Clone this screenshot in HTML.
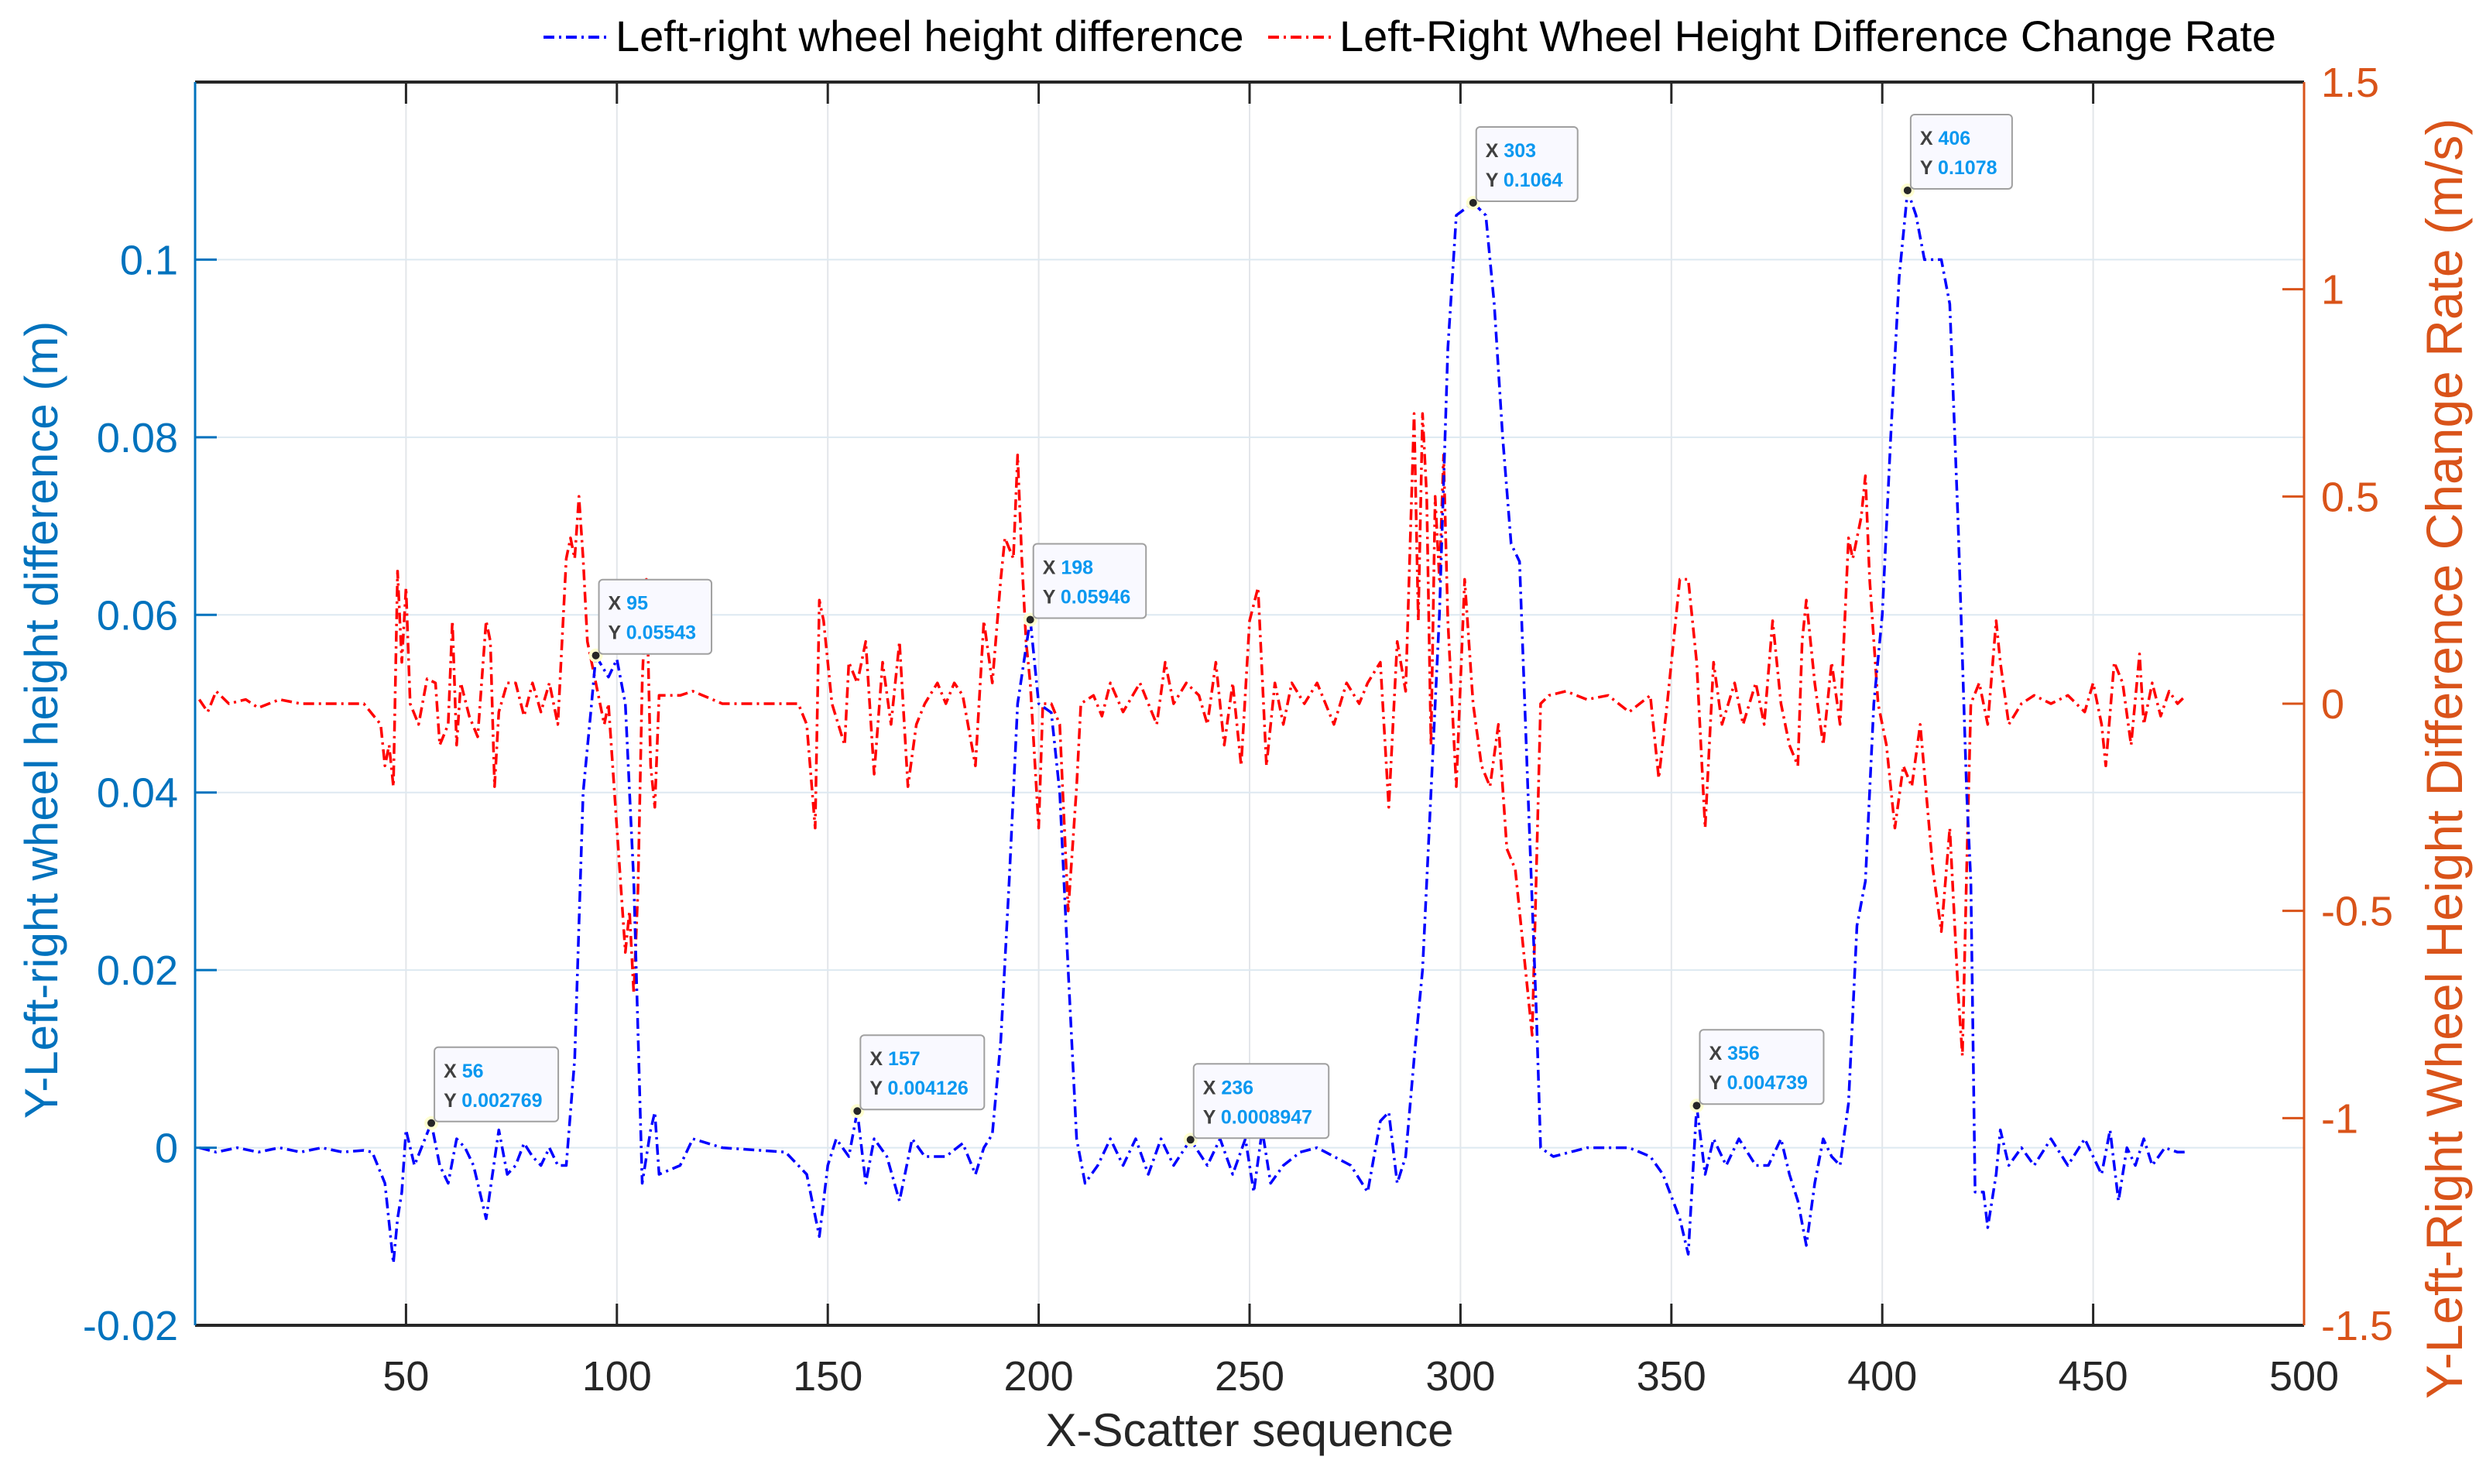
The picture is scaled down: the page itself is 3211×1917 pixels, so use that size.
<!DOCTYPE html>
<html><head><meta charset="utf-8"><style>
html,body{margin:0;padding:0;background:#fff;}
svg{display:block;font-family:"Liberation Sans",Arial,sans-serif;}
</style></head><body>
<svg id="chart" width="3211" height="1917" viewBox="0 0 3211 1917" xmlns="http://www.w3.org/2000/svg">
<rect x="0" y="0" width="3211" height="1917" fill="#fff"/>
<g id="grid"></g>
<g id="series"></g>
<g id="axes"></g>
<g id="tips"></g>
<g id="legend">
  <line x1="702" y1="48" x2="788" y2="48" stroke="#0000FF" stroke-width="4" stroke-dasharray="14,6,3,6"/>
  <text x="795" y="66" font-size="56" fill="#000">Left-right wheel height difference</text>
  <line x1="1638" y1="48" x2="1722" y2="48" stroke="#FF0000" stroke-width="4" stroke-dasharray="14,6,3,6"/>
  <text x="1730" y="66" font-size="56" fill="#000">Left-Right Wheel Height Difference Change Rate</text>
</g>
<text x="1614" y="1868" font-size="60" text-anchor="middle" fill="#262626">X-Scatter sequence</text>
<text transform="translate(74,930) rotate(-90)" font-size="60" text-anchor="middle" fill="#0072BD">Y-Left-right wheel height difference (m)</text>
<text transform="translate(3180,980) rotate(-90)" font-size="66" text-anchor="middle" fill="#D95319">Y-Left-Right Wheel Height Difference Change Rate (m/s)</text>
</svg>
<script>
const xTicks=[50,100,150,200,250,300,350,400,450,500];
const leftTicks=[-0.02,0,0.02,0.04,0.06,0.08,0.1];
const leftTickLabels=["-0.02","0","0.02","0.04","0.06","0.08","0.1"];
const rightTicks=[-1.5,-1,-0.5,0,0.5,1,1.5];
const rightTickLabels=["-1.5","-1","-0.5","0","0.5","1","1.5"];
const heightX=[1,5,10,15,20,25,30,35,40,42,45,47,48,49,50,52,56,58,60,62,64,66,69,72,74,76,78,80,82,84,86,88,90,92,94,95,98,100,102,104,106,108,109,110,115,118,125,140,145,148,150,152,155,157,159,161,164,167,170,173,178,182,185,187,189,191,193,195,198,200,203,205,207,209,211,214,217,220,223,226,229,232,236,240,243,246,249,251,253,255,258,262,266,270,274,278,281,283,285,287,289,291,293,295,297,299,303,306,308,310,312,314,316,318,319,322,330,340,345,348,352,354,356,358,360,363,366,370,373,376,378,380,382,384,386,388,390,392,394,396,398,400,402,404,406,408,410,414,416,418,420,421,422,424,425,427,428,430,433,436,440,444,448,452,454,456,458,460,462,464,467,470,472];
const heightY=[0,-0.0005,0,-0.0005,0,-0.0005,0,-0.0005,-0.0003,-0.0005,-0.004,-0.013,-0.008,-0.005,0.002,-0.002,0.0028,-0.002,-0.004,0.001,0,-0.002,-0.008,0.002,-0.003,-0.002,0.0005,-0.001,-0.002,0,-0.002,-0.002,0.01,0.04,0.05,0.0554,0.053,0.055,0.05,0.03,-0.004,0.002,0.004,-0.003,-0.002,0.001,0,-0.0005,-0.003,-0.010,-0.002,0.001,-0.001,0.0041,-0.004,0.001,-0.001,-0.006,0.001,-0.001,-0.001,0.0005,-0.003,0,0.0015,0.012,0.03,0.05,0.0595,0.05,0.049,0.04,0.02,0.001,-0.004,-0.002,0.001,-0.002,0.001,-0.003,0.001,-0.002,0.0009,-0.002,0.001,-0.003,0.001,-0.005,0.002,-0.004,-0.002,-0.0005,0,-0.001,-0.002,-0.005,0.003,0.004,-0.004,-0.001,0.01,0.02,0.04,0.06,0.09,0.105,0.1064,0.105,0.095,0.08,0.068,0.066,0.04,0.015,0,-0.001,0,0,-0.001,-0.003,-0.008,-0.012,0.0047,-0.003,0.001,-0.002,0.001,-0.002,-0.002,0.001,-0.003,-0.006,-0.011,-0.004,0.001,-0.001,-0.002,0.005,0.025,0.03,0.05,0.06,0.08,0.098,0.1078,0.105,0.1,0.1,0.095,0.07,0.04,0.03,-0.005,-0.005,-0.009,-0.003,0.002,-0.002,0,-0.002,0.001,-0.002,0.001,-0.003,0.002,-0.006,0,-0.002,0.001,-0.002,0,-0.0005,-0.0005];
const rateX=[1,3,5,8,12,15,20,25,30,40,44,45,46,47,48,49,50,51,53,55,57,58,60,61,62,63,65,67,69,70,71,72,74,76,78,80,82,84,86,88,89,90,91,92,93,95,97,98,100,102,103,104,105,106,107,108,109,110,115,118,125,135,143,145,147,148,149,151,154,155,157,159,161,163,165,167,169,171,173,176,178,180,182,185,187,189,191,192,194,195,196,197,198,200,201,203,205,207,208,209,210,213,215,217,220,224,228,230,232,235,238,240,242,244,246,248,250,252,254,256,258,260,263,266,270,273,276,278,281,283,285,287,289,290,291,292,293,294,295,296,297,299,301,303,305,307,309,311,313,315,317,318,319,321,325,330,335,340,345,347,349,352,354,356,358,360,362,365,367,370,372,374,376,378,380,381,382,384,386,388,390,392,393,395,396,397,399,401,403,405,407,409,412,414,416,418,419,420,421,423,425,427,428,430,433,436,440,444,448,450,452,453,455,457,459,461,462,464,466,468,470,472];
const rateY=[0.01,-0.02,0.03,0,0.01,-0.01,0.01,0,0,0,-0.05,-0.15,-0.1,-0.2,0.32,0.1,0.28,0,-0.05,0.06,0.05,-0.1,-0.05,0.2,-0.1,0.05,-0.03,-0.08,0.2,0.15,-0.2,-0.02,0.05,0.05,-0.03,0.05,-0.02,0.05,-0.05,0.35,0.4,0.35,0.5,0.35,0.15,0.05,-0.05,0,-0.3,-0.6,-0.5,-0.7,-0.45,0.05,0.3,-0.15,-0.25,0.02,0.02,0.03,0,0,0,-0.05,-0.3,0.25,0.2,0,-0.1,0.1,0.05,0.15,-0.17,0.1,-0.05,0.15,-0.2,-0.05,0,0.05,0,0.05,0.02,-0.15,0.2,0.05,0.3,0.4,0.35,0.6,0.35,0.15,0.05,-0.3,0,0,-0.05,-0.5,-0.35,-0.2,0,0.02,-0.03,0.05,-0.02,0.05,-0.05,0.1,0,0.05,0.02,-0.05,0.1,-0.1,0.05,-0.15,0.2,0.28,-0.15,0.05,-0.05,0.05,0,0.05,-0.05,0.05,0,0.05,0.1,-0.25,0.15,0.03,0.7,0.2,0.7,0.5,-0.1,0.5,0.3,0.6,0.2,-0.2,0.3,0,-0.15,-0.2,-0.05,-0.35,-0.4,-0.6,-0.8,-0.4,0,0.02,0.03,0.01,0.02,-0.02,0.02,-0.18,0,0.3,0.3,0.1,-0.3,0.1,-0.05,0.05,-0.05,0.05,-0.05,0.2,0,-0.1,-0.15,0.15,0.25,0.05,-0.1,0.1,-0.05,0.4,0.35,0.45,0.55,0.3,0,-0.1,-0.3,-0.15,-0.2,-0.05,-0.4,-0.55,-0.3,-0.7,-0.85,-0.4,0,0.05,-0.05,0.2,0.1,-0.05,0,0.02,0,0.02,-0.02,0.05,-0.05,-0.15,0.1,0.05,-0.1,0.12,-0.05,0.05,-0.03,0.03,0,0.02];
const tipX=[56,95,157,198,236,303,356,406];
const tipY=[0.002769,0.05543,0.004126,0.05946,0.0008947,0.1064,0.004739,0.1078];
const tipLabels=["0.002769","0.05543","0.004126","0.05946","0.0008947","0.1064","0.004739","0.1078"];

const NS="http://www.w3.org/2000/svg";
const L=252,R=2976,T=106,B=1712;
const xMin=0,xMax=500,lMin=-0.02,lMax=0.12,rMin=-1.5,rMax=1.5;
function sx(v){return L+(v-xMin)/(xMax-xMin)*(R-L);}
function sl(v){return B-(v-lMin)/(lMax-lMin)*(B-T);}
function sr(v){return B-(v-rMin)/(rMax-rMin)*(B-T);}
function mk(tag,attrs,parent){const e=document.createElementNS(NS,tag);for(const k in attrs)e.setAttribute(k,attrs[k]);parent.appendChild(e);return e;}
const grid=document.getElementById('grid'),axes=document.getElementById('axes'),series=document.getElementById('series'),tips=document.getElementById('tips');

xTicks.forEach((t,i)=>{
  const x=sx(t);
  if(t<xMax){const g=mk('line',{x1:x,y1:T,x2:x,y2:B,stroke:'#e3e6ea','stroke-width':2},grid);
  
  }
  const tk1=mk('line',{x1:x,y1:B,x2:x,y2:B-28,stroke:'#262626','stroke-width':3},axes);
  
  
  const tk2=mk('line',{x1:x,y1:T,x2:x,y2:T+28,stroke:'#262626','stroke-width':3},axes);
  
  
  const lb=mk('text',{x:x,y:B+84,'font-size':54,'text-anchor':'middle',fill:'#262626'},axes);
  lb.textContent=String(t);
  
  
});
leftTicks.forEach((t,i)=>{
  const y=sl(t);
  const g=mk('line',{x1:L,y1:y,x2:R,y2:y,stroke:'#dde9f1','stroke-width':2},grid);
  
  
  const tk=mk('line',{x1:L,y1:y,x2:L+28,y2:y,stroke:'#0072BD','stroke-width':3},axes);
  
  
  const lb=mk('text',{x:L-22,y:y+19,'font-size':54,'text-anchor':'end',fill:'#0072BD'},axes);
  lb.textContent=leftTickLabels[i];
  
  
});
rightTicks.forEach((t,i)=>{
  const y=sr(t);
  const tk=mk('line',{x1:R,y1:y,x2:R-28,y2:y,stroke:'#D95319','stroke-width':3},axes);
  
  
  const lb=mk('text',{x:R+22,y:y+19,'font-size':54,'text-anchor':'start',fill:'#D95319'},axes);
  lb.textContent=rightTickLabels[i];
  
  
});
const topAx=mk('line',{x1:L,y1:T,x2:R,y2:T,stroke:'#262626','stroke-width':4},axes);


const botAx=mk('line',{x1:L,y1:B,x2:R,y2:B,stroke:'#262626','stroke-width':4},axes);


const lAx=mk('line',{x1:L,y1:T,x2:L,y2:B,stroke:'#0072BD','stroke-width':3},axes);


const rAx=mk('line',{x1:R,y1:T,x2:R,y2:B,stroke:'#D95319','stroke-width':3},axes);



function pathD(xs,ys,f){return xs.map((x,i)=>(i?'L':'M')+sx(x).toFixed(1)+','+f(ys[i]).toFixed(1)).join(' ');}
const rp=mk('path',{d:pathD(rateX,rateY,sr),fill:'none',stroke:'#FF0000','stroke-width':3.5,'stroke-dasharray':'14,6,3,6','stroke-linejoin':'round'},series);


const hp=mk('path',{d:pathD(heightX,heightY,sl),fill:'none',stroke:'#0000FF','stroke-width':3.5,'stroke-dasharray':'14,6,3,6','stroke-linejoin':'round'},series);



tipX.forEach((tx,i)=>{
  const px=sx(tx),py=sl(tipY[i]);
  const g=mk('g',{},tips);
  
  
  const halo=mk('circle',{cx:px,cy:py,r:9,fill:'#ffffd0'},g);
  
  
  const dot=mk('circle',{cx:px,cy:py,r:5,fill:'#262626'},g);
  
  
  const w=44+tipLabels[i].length*14.5, h=96;
  const bx=px+4, by=py-h-2;
  const box=mk('rect',{x:bx,y:by,width:w,height:h,rx:5,fill:'#f9f9ff',stroke:'#a0a0a0','stroke-width':2},g);
  
  
  const t1=mk('text',{x:bx+12,y:by+39,'font-size':25,'font-weight':'bold'},g);
  
  
  t1.innerHTML='<tspan fill="#404040">X </tspan><tspan fill="#0a98f0">'+tx+'</tspan>';
  const t2=mk('text',{x:bx+12,y:by+77,'font-size':25,'font-weight':'bold'},g);
  
  
  t2.innerHTML='<tspan fill="#404040">Y </tspan><tspan fill="#0a98f0">'+tipLabels[i]+'</tspan>';
});
</script>
</body></html>
